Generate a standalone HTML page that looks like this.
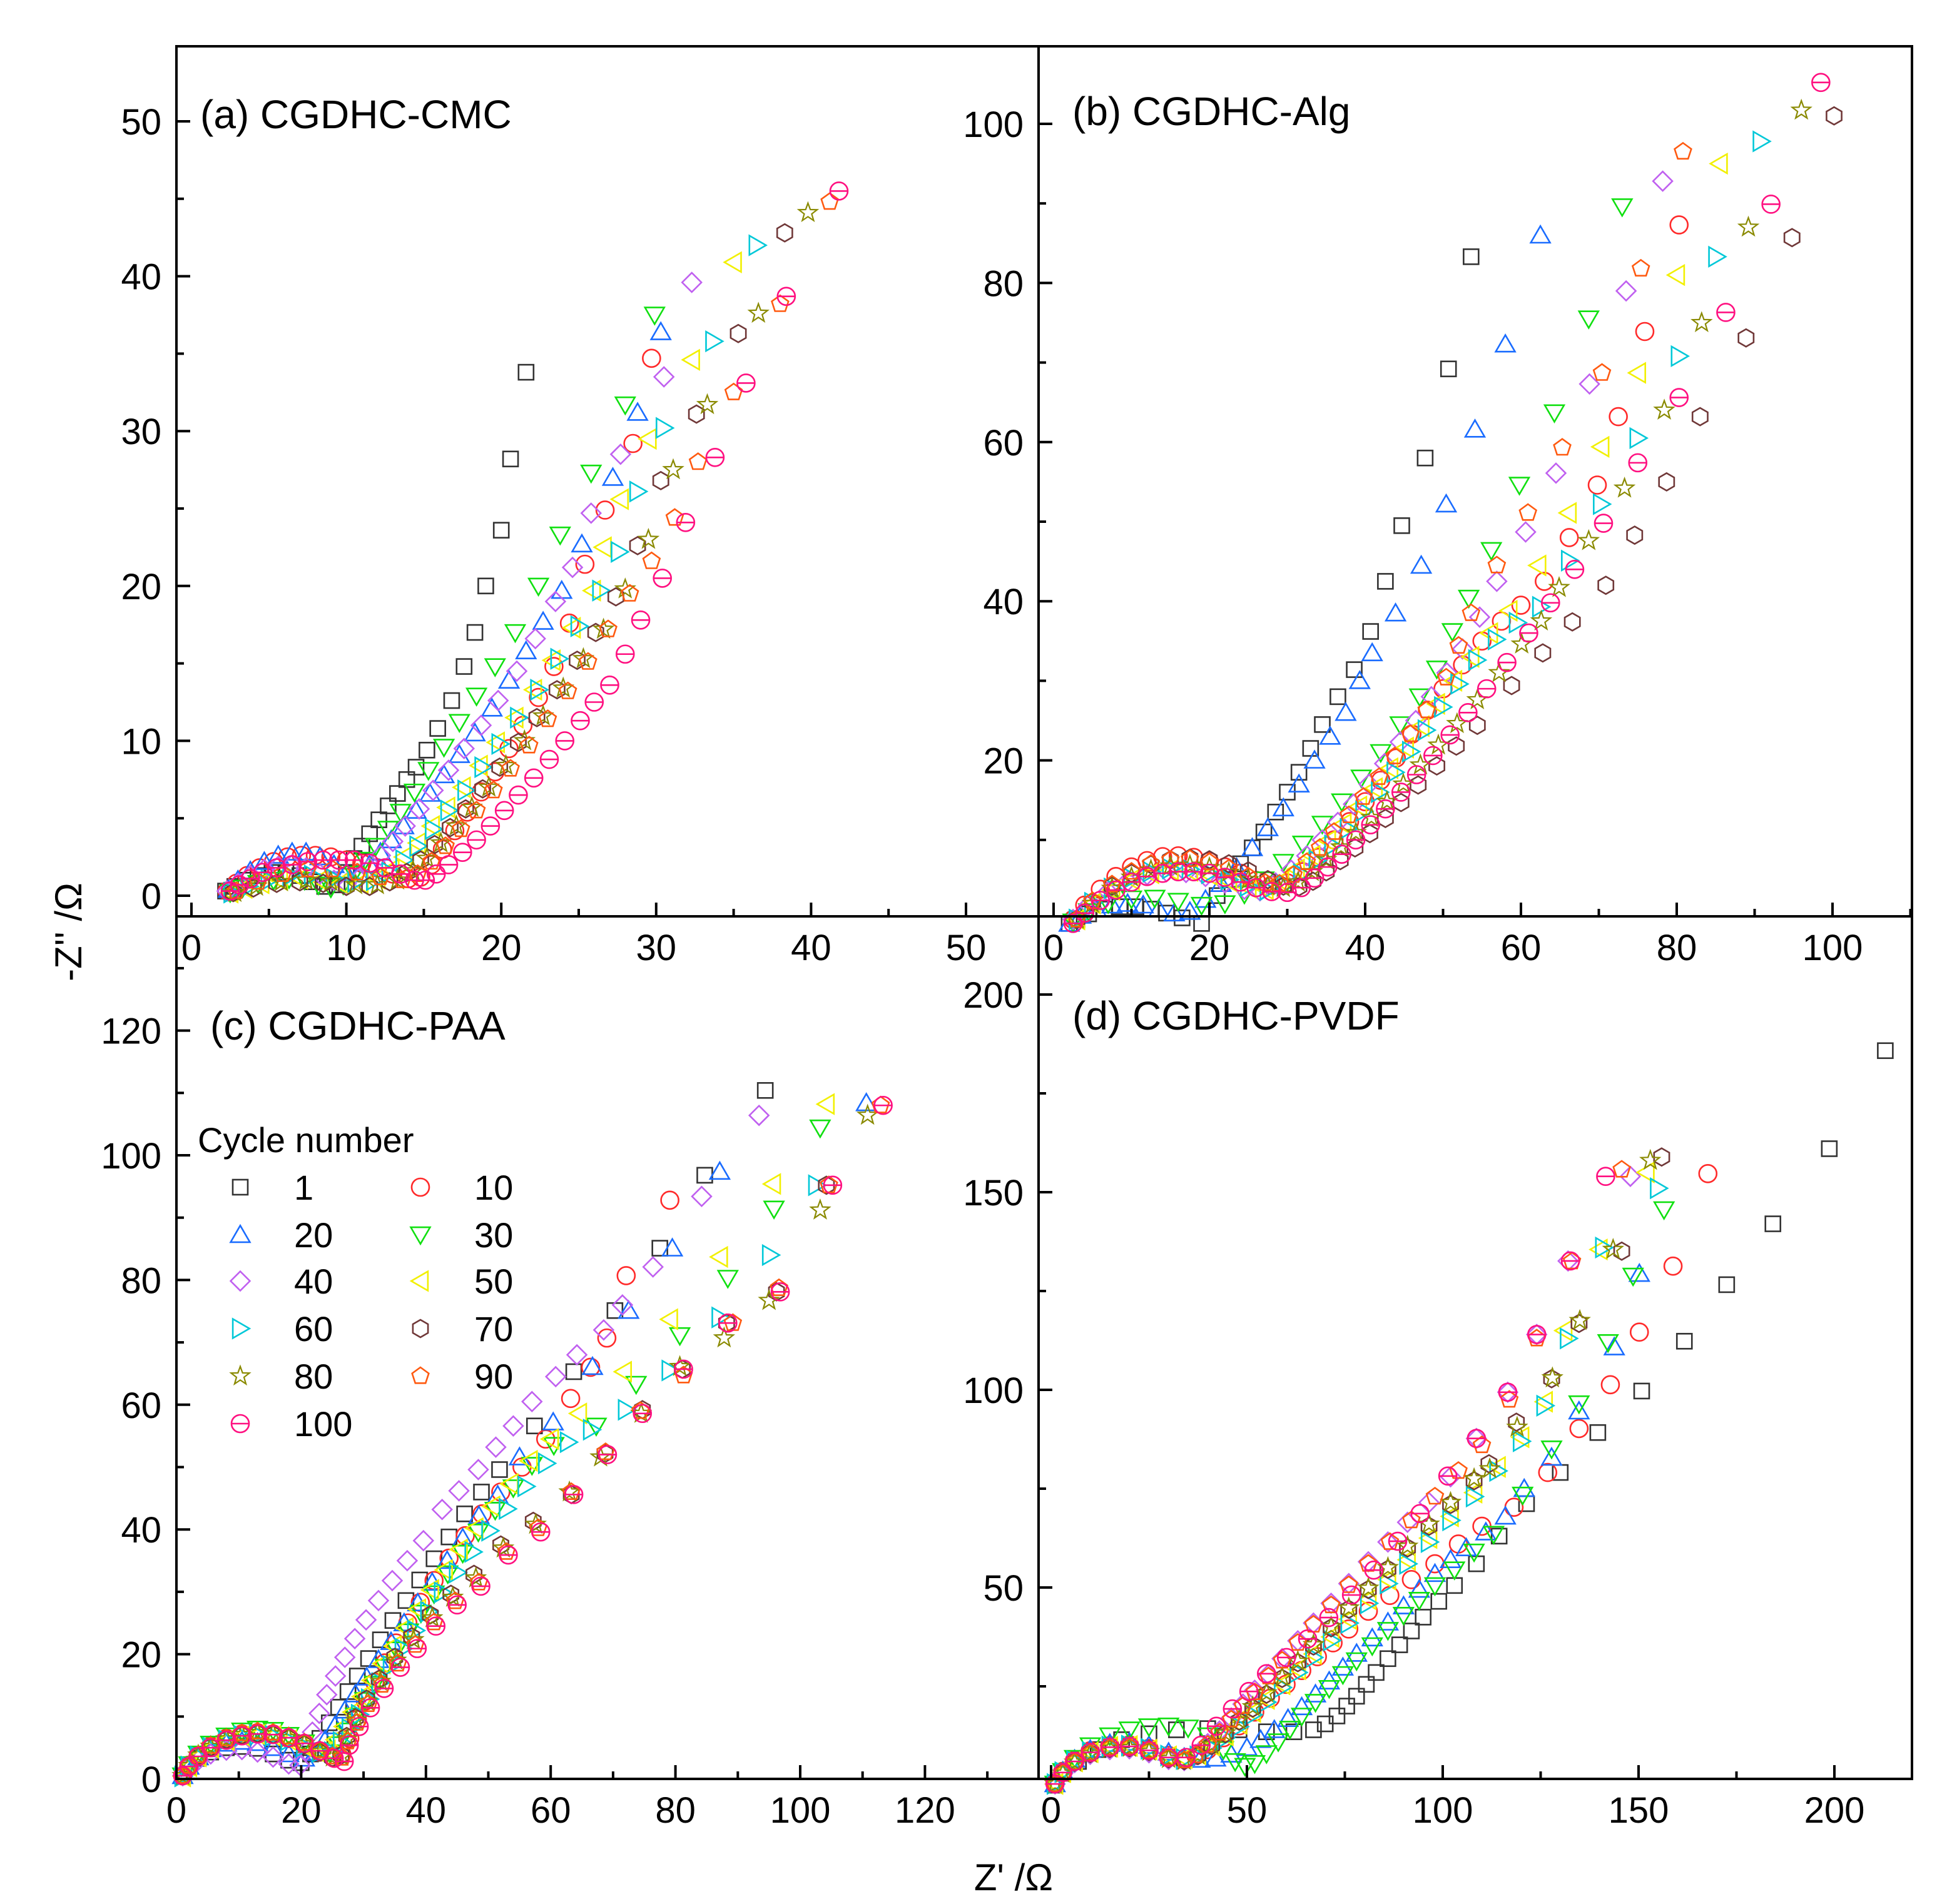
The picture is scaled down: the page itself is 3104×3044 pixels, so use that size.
<!DOCTYPE html>
<html><head><meta charset="utf-8">
<style>
html,body{margin:0;padding:0;background:#fff;}
svg{display:block;font-family:"Liberation Sans",Arial,sans-serif;}
</style></head>
<body>
<svg id="chart" xmlns="http://www.w3.org/2000/svg" width="3104" height="3044" viewBox="0 0 3104 3044">
<rect x="0" y="0" width="3104" height="3044" fill="#fff"/>
<g id="marks"></g>
<g id="axes"></g>
</svg>
<script>
// ---------- Data (Z' , -Z'') per cycle ----------
const cycles = [1,10,20,30,40,50,60,70,80,90,100];
const aTicksX = [0,10,20,30,40,50];
const aTicksY = [0,10,20,30,40,50];
const bTicksX = [0,20,40,60,80,100];
const bTicksY = [20,40,60,80,100];
const cTicksX = [0,20,40,60,80,100,120];
const cTicksY = [0,20,40,60,80,100,120];
const dTicksX = [0,50,100,150,200];
const dTicksY = [50,100,150,200];

const a1=[[2.2,0.3],[2.8,0.6],[3.5,1],[4.3,1.3],[5.2,1.5],[6.1,1.5],[7,1.3],[7.8,0.9],[8.6,0.6],[9.4,0.7],[10,1.5],[10.5,2.4],[11,3.2],[11.5,4],[12.1,4.9],[12.7,5.8],[13.3,6.6],[13.9,7.5],[14.5,8.3],[15.2,9.4],[15.9,10.8],[16.8,12.6],[17.6,14.8],[18.3,17],[19,20],[20,23.6],[20.6,28.2],[21.6,33.8]];
const a10=[[2.3,0.3],[2.9,0.8],[3.6,1.3],[4.4,1.8],[5.3,2.2],[6.2,2.5],[7.1,2.6],[8,2.6],[9,2.5],[10,2.3],[11,2.1],[12,1.8],[13,1.4],[14,1.1],[14.8,1.2],[15.5,2],[16.2,3],[17,4.2],[17.8,5.4],[18.7,6.7],[19.6,8],[20.5,9.5],[21.4,11],[22.4,12.8],[23.4,14.8],[24.4,17.6],[25.4,21.4],[26.7,24.9],[28.5,29.2],[29.7,34.7]];
const a20=[[2.4,0.4],[3,1],[3.8,1.6],[4.7,2.2],[5.6,2.6],[6.5,2.8],[7.4,2.8],[8.3,2.5],[9.2,2],[10,1.5],[10.8,1.4],[11.5,2],[12.2,2.8],[12.9,3.6],[13.7,4.5],[14.5,5.5],[15.4,6.6],[16.3,7.8],[17.3,9.1],[18.3,10.5],[19.4,12.1],[20.5,13.9],[21.6,15.8],[22.7,17.7],[23.9,19.7],[25.2,22.7],[27.2,27],[28.8,31.2],[30.3,36.4]];
const a30=[[2.5,0.2],[3.3,0.5],[4.3,0.8],[5.3,1],[6.3,1.1],[7.3,1],[8.2,0.7],[9,0.5],[9.8,0.7],[10.5,1.4],[11.2,2.3],[11.9,3.2],[12.7,4.3],[13.5,5.4],[14.4,6.7],[15.3,8.1],[16.3,9.6],[17.3,11.2],[18.4,12.9],[19.6,14.8],[20.9,17],[22.4,20],[23.8,23.3],[25.8,27.3],[28,31.7],[29.9,37.5]];
const a40=[[2.3,0.3],[3,0.8],[3.8,1.3],[4.7,1.7],[5.6,1.9],[6.5,2],[7.4,1.8],[8.3,1.4],[9.2,1],[10,0.8],[10.8,1.1],[11.5,1.8],[12.2,2.6],[13,3.5],[13.8,4.5],[14.7,5.6],[15.6,6.8],[16.6,8.1],[17.6,9.5],[18.7,11],[19.8,12.6],[21,14.5],[22.2,16.6],[23.5,19],[24.6,21.2],[25.8,24.7],[27.7,28.5],[30.5,33.5],[32.3,39.6]];
const a50=[[2.5,0.2],[3.4,0.5],[4.5,0.8],[5.7,1],[7,1.1],[8.3,1],[9.6,0.8],[10.9,0.8],[12,1.1],[12.9,1.7],[13.7,2.5],[14.6,3.4],[15.5,4.5],[16.5,5.7],[17.5,7],[18.6,8.4],[19.7,9.9],[20.9,11.5],[22.1,13.3],[23.3,15.2],[24.6,17.3],[25.9,19.7],[26.6,22.5],[27.7,25.6],[29.5,29.5],[32.3,34.6],[35,40.9]];
const a60=[[2.6,0.2],[3.7,0.6],[5,1],[6.4,1.3],[7.8,1.3],[9.2,1.1],[10.6,0.9],[11.8,1],[12.8,1.5],[13.7,2.3],[14.6,3.2],[15.6,4.3],[16.6,5.5],[17.7,6.8],[18.8,8.3],[19.9,9.8],[21.1,11.5],[22.4,13.3],[23.7,15.3],[25,17.4],[26.4,19.7],[27.6,22.2],[28.8,26.1],[30.5,30.2],[33.7,35.8],[36.5,42]];
const a70=[[2.7,0.2],[4,0.5],[5.5,0.8],[7,0.9],[8.5,0.8],[10,0.6],[11.5,0.6],[12.8,0.9],[13.9,1.5],[14.8,2.3],[15.7,3.3],[16.7,4.4],[17.7,5.6],[18.8,6.9],[19.9,8.3],[21.1,9.9],[22.3,11.5],[23.6,13.3],[24.9,15.2],[26.1,17],[27.4,19.3],[28.8,22.6],[30.3,26.8],[32.6,31.1],[35.3,36.3],[38.3,42.8]];
const a80=[[2.8,0.2],[4.2,0.6],[5.8,0.9],[7.4,1],[9,0.9],[10.6,0.7],[12,0.7],[13.3,1],[14.3,1.6],[15.2,2.4],[16.1,3.4],[17.1,4.5],[18.1,5.7],[19.2,7],[20.3,8.4],[21.5,10],[22.7,11.6],[24,13.4],[25.3,15.3],[26.6,17.2],[28,19.8],[29.5,23],[31.1,27.5],[33.3,31.7],[36.6,37.6],[39.8,44.1]];
const a90=[[2.9,0.3],[4.3,0.9],[5.9,1.4],[7.5,1.7],[9.1,1.7],[10.7,1.5],[12.2,1.2],[13.6,1],[14.6,1.4],[15.5,2.2],[16.4,3.2],[17.4,4.3],[18.4,5.5],[19.5,6.8],[20.6,8.2],[21.8,9.7],[23,11.4],[24.3,13.2],[25.6,15.1],[26.9,17.2],[28.3,19.5],[29.7,21.6],[31.2,24.4],[32.7,28],[35,32.5],[38,38.2],[41.2,44.8]];
const a100=[[2.5,0.3],[3.1,0.7],[3.8,1.1],[4.6,1.5],[5.5,1.8],[6.5,2],[7.5,2.2],[8.5,2.3],[9.5,2.3],[10.5,2.3],[11.5,2.1],[12.5,1.8],[13.5,1.4],[14.4,1],[15.1,1],[15.8,1.4],[16.6,2],[17.5,2.8],[18.4,3.6],[19.3,4.5],[20.2,5.5],[21.1,6.5],[22.1,7.6],[23.1,8.8],[24.1,10],[25.1,11.3],[26,12.5],[27,13.6],[28,15.6],[29,17.8],[30.4,20.5],[31.9,24.1],[33.8,28.3],[35.8,33.1],[38.4,38.7],[41.8,45.5]];

const b1=[[2,-0.5],[3,0],[4.5,0.7],[6.5,1.3],[8.5,1.6],[10.5,1.6],[12.5,1.3],[14.5,0.8],[16.5,0.2],[19,-0.5],[21,3],[22.5,5],[24,7],[25.5,9],[27,11],[28.5,13.5],[30,16],[31.5,18.5],[33,21.5],[34.5,24.5],[36.5,28],[38.6,31.4],[40.7,36.2],[42.6,42.5],[44.7,49.5],[47.7,58],[50.7,69.2],[53.6,83.3]];
const b10=[[2.5,0],[4,1.8],[6,3.8],[8,5.4],[10,6.6],[12,7.4],[14,7.9],[16,8],[18,7.8],[20,7.3],[22,6.6],[24,5.8],[26,4.9],[28,4.3],[30,4.6],[32,6],[34,7.8],[36,10],[38,12.3],[40,14.8],[42,17.5],[44,20.3],[46,23.3],[48,26.3],[50,29],[52.5,32],[55,35],[57.5,37.5],[60,39.5],[63,42.5],[66.2,48],[69.8,54.6],[72.5,63.2],[75.9,73.9],[80.3,87.3]];
const b20=[[2,-0.5],[3.5,0.5],[5.5,1.3],[7.5,1.8],[9.5,2],[11.5,1.8],[13.5,1.3],[15.5,0.8],[17.5,1],[19.5,2.5],[21.5,4.5],[23.5,6.5],[25.5,9],[27.5,11.5],[29.5,14],[31.5,17],[33.5,20],[35.5,23],[37.5,26],[39.3,30],[40.9,33.5],[43.9,38.5],[47.2,44.5],[50.4,52.2],[54.1,61.6],[58,72.3],[62.5,86]];
const b30=[[2.5,-0.3],[4.5,1],[7,2],[10,2.6],[13,2.7],[16,2.3],[19,1.8],[22,2],[24.5,3.2],[27,5],[29.5,7.2],[32,9.5],[34.5,12],[37,14.8],[39.5,17.8],[42,21],[44.5,24.5],[47,28],[49.2,31.5],[51.2,36.2],[53.3,40.4],[56.2,46.4],[59.8,54.6],[64.3,63.7],[68.7,75.5],[73,89.6]];
const b40=[[2.5,0],[4.5,1.8],[7,3.5],[9.5,4.8],[12,5.6],[14.5,6],[17,5.9],[19.5,5.4],[22,4.6],[24.5,3.8],[26.5,3.6],[28.5,4.6],[30.5,6.2],[32.5,8],[34.5,10],[36.5,12.2],[38.5,14.5],[40.5,17],[42.5,19.6],[44.5,22.3],[46.5,25],[48.5,28],[50.5,31],[52.5,34],[54.7,38],[56.9,42.5],[60.6,48.7],[64.5,56.1],[68.8,67.3],[73.5,79],[78.2,92.8]];
const b50=[[3,0],[5,2],[7.5,3.7],[10,5],[12.5,5.8],[15,6.2],[17.5,6.1],[20,5.6],[22.5,4.8],[25,4],[27.2,3.8],[29.2,4.8],[31.2,6.3],[33.2,8],[35.2,9.9],[37.2,12],[39.2,14.2],[41.2,16.5],[43.2,19],[45.2,21.6],[47.2,24.3],[49.2,27.1],[51.4,30],[53.6,33],[56,36],[58.5,38.8],[62.2,44.5],[66.1,51.1],[70.3,59.4],[75,68.7],[80,81],[85.5,95]];
const b60=[[3,0],[5,2.1],[7.5,3.9],[10,5.2],[12.5,6],[15,6.4],[17.5,6.3],[20,5.8],[22.5,5],[25,4.2],[27.5,3.7],[29.7,4.3],[31.8,5.7],[33.8,7.4],[35.8,9.3],[37.8,11.4],[39.8,13.6],[41.8,16],[43.8,18.5],[45.8,21.1],[47.8,23.8],[49.9,26.7],[52,29.6],[54.3,32.6],[56.8,35.2],[59.5,37.3],[62.5,39.3],[66.2,45.1],[70.3,52.2],[75,60.5],[80.3,70.8],[85.1,83.3],[90.8,97.8]];
const b70=[[3,0],[5,2.2],[7.5,4.2],[10,5.8],[12.5,6.9],[15,7.5],[17.5,7.7],[20,7.5],[22.5,7],[25,6.1],[27.5,5],[29.5,4.2],[31.5,4.1],[33.3,4.8],[35,6],[36.8,7.4],[38.7,9],[40.6,10.8],[42.6,12.7],[44.6,14.7],[46.8,16.9],[49.2,19.3],[51.7,21.8],[54.4,24.4],[58.8,29.4],[62.8,33.5],[66.6,37.4],[70.9,42],[74.6,48.3],[78.7,55],[83,63.2],[88.9,73.1],[94.8,85.7],[100.2,101]];
const b80=[[3,0],[5,2],[7.5,3.9],[10,5.3],[12.5,6.2],[15,6.7],[17.5,6.8],[20,6.5],[22.5,5.9],[25,5],[27.5,4.2],[29.5,4],[31.4,4.7],[33.2,6],[35,7.5],[36.9,9.1],[38.8,10.9],[40.8,12.8],[42.8,14.8],[44.9,17],[47.1,19.4],[49.4,21.9],[51.8,24.6],[54.4,27.6],[57.2,31],[60.1,34.6],[62.6,37.5],[64.9,41.7],[68.7,47.6],[73.3,54.2],[78.4,64],[83.2,75],[89.2,87],[96,101.7]];
const b90=[[3,0],[5,2.3],[7.5,4.4],[10,6],[12.5,7],[15,7.5],[17.5,7.6],[20,7.2],[22.5,6.4],[25,5.4],[27.2,4.6],[29,4.5],[30.8,5.6],[32.5,7.2],[34.2,9],[36,11],[37.9,13.1],[39.8,15.4],[41.8,17.9],[43.8,20.5],[45.8,23.3],[47.9,26.3],[50.4,30.4],[52,34.4],[53.6,38.5],[56.9,44.5],[60.9,51.1],[65.3,59.3],[70.4,68.7],[75.4,81.8],[80.8,96.5]];
const b100=[[2.5,-0.5],[4,0.8],[6,2.4],[8,3.7],[10,4.7],[12,5.4],[14,5.8],[16,6],[18,6],[20,5.8],[22,5.3],[24,4.7],[26,4],[28,3.5],[30,3.4],[31.8,4],[33.5,5.2],[35.2,6.6],[37,8.2],[38.8,10],[40.7,11.9],[42.6,13.9],[44.6,16],[46.6,18.2],[48.7,20.6],[50.9,23.2],[53.2,26],[55.6,29],[58.2,32.3],[61,36],[63.8,39.8],[66.9,44],[70.6,49.8],[75,57.4],[80.3,65.6],[86.3,76.3],[92.1,89.9],[98.5,105.2]];

const c1=[[1,0.5],[2,2],[3.5,3.3],[5.5,4.3],[8,5],[10.5,5.2],[13,4.9],[15.5,4],[18,3],[20,2.6],[21.5,4],[23,6.5],[24.5,9],[26,11.5],[27.5,14],[29,16.5],[30.8,19.3],[32.7,22.3],[34.7,25.4],[36.8,28.6],[39,31.9],[41.3,35.3],[43.7,38.8],[46.2,42.5],[48.9,46],[51.8,49.6],[57.4,56.6],[63.7,65.3],[70.3,75.1],[77.5,85.1],[84.7,96.8],[94.4,110.4]];
const c10=[[1,0.5],[2,2.2],[3.5,3.8],[5.5,5.3],[8,6.5],[10.5,7.2],[13,7.4],[15.5,7.2],[18,6.5],[20.5,5.5],[23,4.3],[25,3.5],[26.5,4],[27.8,6.5],[29,9.5],[30.3,12.5],[31.8,15.5],[33.4,18.6],[35.2,21.8],[37.1,25],[39.1,28.3],[41.3,31.8],[43.7,35.4],[46.3,39],[49,42.5],[52,46],[55.4,50],[59.2,54.5],[63.2,61],[66.4,66],[69,70.7],[72.1,80.7],[79.1,92.8]];
const c20=[[1,0.5],[2,2],[3.5,3.5],[5.5,4.8],[8,5.7],[10.5,6],[13,5.8],[15.5,5],[18,4],[20.5,3.3],[22.2,4.2],[23.8,6.2],[25.4,8.5],[27,11],[28.7,13.6],[30.5,16.3],[32.4,19.1],[34.4,22],[36.5,25],[38.7,28.2],[41,31.5],[43.4,35],[45.9,38.6],[48.5,42.2],[51.5,45.5],[55,51.6],[60.4,57.2],[66.7,66.1],[72.5,75.1],[79.5,85.1],[87.1,97.4],[110.6,108.4]];
const c30=[[1,0.5],[2,2.3],[3.5,4],[5.5,5.6],[8,6.9],[10.5,7.7],[13,8],[15.5,7.8],[18,7],[20.5,5.8],[22.8,4.5],[24.6,4.2],[26,5.5],[27.3,7.7],[28.7,10.1],[30.2,12.6],[31.8,15.2],[33.5,17.9],[35.3,20.7],[37.2,23.6],[39.2,26.6],[41.3,29.7],[43.5,32.9],[45.9,36.2],[48.4,39.6],[51.1,43.1],[54,46.7],[57,50.3],[60.5,53.5],[67.3,56.6],[73.7,63.3],[80.7,71.1],[88.4,80.3],[95.8,91.4],[103.2,104.4]];
const c40=[[1,0.5],[2,1.8],[3.5,3],[5.5,4],[8,4.6],[10.5,4.7],[13,4.3],[15.5,3.5],[18,2.4],[19.8,2.2],[20.8,4.5],[21.8,7.5],[22.9,10.5],[24.1,13.5],[25.5,16.5],[27,19.5],[28.6,22.5],[30.4,25.5],[32.4,28.6],[34.6,31.8],[37,35],[39.6,38.2],[42.6,43.2],[45.3,46.2],[48.4,49.6],[51.2,53.2],[54,56.6],[57,60.5],[60.8,64.5],[64.2,68],[68.5,72],[71.5,76],[76.4,82.1],[84.2,93.4],[93.4,106.4]];
const c50=[[1,0.4],[2,2],[3.5,3.6],[5.5,5],[8,6.2],[10.5,6.9],[13,7.1],[15.5,6.9],[18,6.2],[20.5,5.2],[22.8,4.2],[24.2,4.6],[25.5,6.3],[26.8,8.4],[28.2,10.7],[29.7,13.2],[31.3,15.8],[33,18.5],[34.8,21.3],[36.7,24.2],[38.7,27.2],[40.8,30.3],[43,33.5],[45.4,36.8],[47.9,40.2],[50.6,43.7],[53.5,47.3],[56.6,51],[60,54.5],[64.5,58.6],[71.7,65.3],[79.1,73.7],[87.1,83.7],[95.6,95.4],[104.2,108.2]];
const c60=[[1,0.4],[2,2],[3.5,3.6],[5.5,5],[8,6.2],[10.5,6.9],[13,7.1],[15.5,6.9],[18,6.2],[20.5,5.2],[23,4.3],[25,4.3],[26.4,5.9],[27.8,8],[29.3,10.3],[30.9,12.8],[32.6,15.4],[34.4,18.1],[36.3,20.9],[38.3,23.8],[40.4,26.8],[42.6,29.9],[45,33.1],[47.5,36.4],[50.2,39.8],[53,43.3],[56,46.9],[59.3,50.6],[62.8,54],[66.5,56],[72.1,59.2],[79.1,65.5],[87.1,74],[95.2,84],[102.6,95.2]];
const c70=[[1,0.5],[2,2],[3.5,3.7],[5.5,5.1],[8,6.3],[10.5,7],[13,7.3],[15.5,7.1],[18,6.5],[20.5,5.5],[23,4.3],[25,3.4],[26.4,3.8],[27.3,6.8],[28.7,9.8],[30.5,12.8],[32.5,16],[35,19.5],[37.7,22.8],[40.7,26.3],[44,29.6],[47.7,32.8],[52,37.5],[57.2,41.3],[63.3,45.6],[68.7,52.2],[74.7,59.2],[81.1,65.7],[88.2,73.1],[96.2,78.1],[104.2,95.2]];
const c80=[[1,0.5],[2,2.1],[3.5,3.8],[5.5,5.2],[8,6.4],[10.5,7.1],[13,7.4],[15.5,7.2],[18,6.6],[20.5,5.6],[23,4.4],[25,3.5],[26.5,3.6],[27.4,6.4],[28.8,9.4],[30.6,12.4],[32.7,15.6],[35.2,19],[38,22.3],[41,25.8],[44.3,29.1],[48,32.2],[52.4,37],[57.6,40.8],[63,46],[68,51.6],[74.5,58.6],[80.7,66.1],[87.8,70.7],[95,76.7],[103.2,91.2],[110.8,106.4]];
const c90=[[1,0.5],[2,2.1],[3.5,3.8],[5.5,5.3],[8,6.5],[10.5,7.3],[13,7.6],[15.5,7.4],[18,6.8],[20.5,5.8],[23,4.6],[25,3.6],[26.6,3.4],[27.5,6],[29,9],[30.8,12],[33,15.1],[35.5,18.5],[38.3,21.5],[41.3,25.1],[44.7,28.5],[48.5,31.5],[52.9,36.4],[58,40.2],[63.3,46],[68.8,52.4],[74.4,59],[81.3,64.7],[89.2,73.1],[96.6,78.7],[104.6,95.2],[112.9,108]];
const c100=[[1,0.5],[2,2],[3.5,3.6],[5.5,5],[8,6.2],[10.5,6.9],[13,7.2],[15.5,7.1],[18,6.6],[20.5,5.7],[23,4.5],[25.3,3.3],[26.9,2.8],[27.7,5.4],[29.3,8.4],[31.1,11.4],[33.3,14.5],[35.9,17.9],[38.6,20.9],[41.6,24.5],[45,27.9],[48.8,30.9],[53.2,35.9],[58.4,39.6],[63.7,45.6],[69.1,52],[74.7,58.6],[81.3,65.7],[88.4,73.1],[96.8,78.1],[105.2,95.2],[113.3,108]];

const d1=[[1,0],[3,3],[7,6],[12,9],[18,11.5],[25,13],[32,14],[40,14.3],[48,14],[55,13.5],[62,13.5],[67,14],[70,15.5],[73,17.5],[75.5,20],[78,22.5],[80.5,25.5],[83,28.5],[86,32],[89,35.5],[92,39],[95,42.5],[99,46.5],[103,50.5],[108.6,56],[114.4,63],[121.4,71.2],[130,79.1],[139.6,89.2],[150.8,99.7],[161.7,112.3],[172.5,126.6],[184.3,142],[198.7,161],[213,185.8]];
const d10=[[1,0.5],[3,3.5],[6,6.3],[10,8.7],[15,10],[20,10.2],[25,9.3],[30,7.5],[34,6.5],[37,7.5],[40,9],[44,12],[48,15],[52,18.5],[56,22],[60,25.5],[64,29],[68,32.5],[72,36],[76,39.5],[81,44],[86.5,48],[92,52],[98,56],[104,61],[110,65.5],[118.2,70.3],[126.8,79.1],[134.8,90.2],[142.8,101.3],[150.2,114.6],[158.8,131.3],[167.7,154.7]];
const d20=[[1,0.3],[3,3.5],[6,6.5],[10,9],[15,10.5],[20,10.8],[25,10],[30,8.3],[34,7],[38,6.5],[42,6.8],[46,7.8],[50,9.5],[53.5,11.5],[57,14],[60.5,16.8],[64,19.8],[67.5,23],[71,26.3],[74.5,29.8],[78,33.3],[82,37.2],[86,41.2],[90,45.3],[94,49.5],[98,53.5],[102,57],[106,60],[111,64],[116,68],[120.8,75],[127.8,82.9],[134.8,94.6],[143.8,110.8],[150.2,129.4]];
const d30=[[1,0.3],[3,3.5],[6,6.8],[10,10],[15,12.5],[20,14],[25,14.8],[30,15],[35,14.5],[40,12.5],[44,9],[47,6],[49.5,4.8],[52,5.5],[55,8],[58,11],[61,14.2],[64,17.5],[67.5,21],[71,24.5],[74.5,28],[78,31.5],[82,35.3],[86,39.2],[90,43],[94,46.8],[98,50.5],[103,54.5],[108,59],[113,63.5],[120.4,73.4],[127.8,85.1],[134.8,96.5],[142.2,112],[148.6,128.8],[156.5,145.6]];
const d40=[[1,0.3],[3,3],[6,5.7],[10,7.8],[15,9],[20,9.2],[25,8.2],[30,6.5],[34,6.2],[37,7.8],[40,10.5],[43,13.7],[46,17],[49,20.5],[52,24],[55.5,28],[59,32],[63,36.5],[67,41],[71.5,46],[76,51],[81,56.5],[86,61.5],[91,66.5],[96.5,71.5],[102,78],[108.6,87.7],[116.6,99.4],[124,114],[132,132.6],[147.9,154]];
const d50=[[1,0.3],[3,3.3],[6,6],[10,8.3],[15,9.7],[20,9.9],[25,9],[30,7.3],[34,6.8],[37.5,7.8],[41,10],[44.5,12.6],[48,15.5],[51.5,18.5],[55,21.8],[59,25.5],[63,29.3],[67,33.2],[71.5,37.5],[76,42],[81,47],[86,52],[91,57],[96.5,62.5],[102,68],[108,74],[114,80.5],[120,88],[126,97],[131,115],[140,135.5],[152,155]];
const d60=[[1,0.3],[3,3.3],[6,6.1],[10,8.4],[15,9.8],[20,10],[25,9.2],[30,7.5],[34,6.6],[37.5,7.3],[41,9.4],[44.5,12],[48,14.8],[51.5,17.8],[55,21],[59,24.7],[63,28.5],[67,32.3],[71.5,36.6],[76,41],[81,46],[86,51],[91,56],[96.5,61.5],[102,67],[108,73],[114,79.5],[120,87],[126,96],[132,113],[141,136],[155,151]];
const d70=[[1,0.3],[3,3],[6,5.8],[10,8],[15,9.3],[20,9.5],[25,8.5],[30,6.7],[34,6.2],[37.5,7.5],[41,10],[44.5,13],[48,16.2],[51.5,19.5],[55,23],[59,27],[63,31],[67,35.2],[71.5,39.8],[76,44.5],[81,49.5],[86,54.6],[91,60],[96.5,65.5],[102,71],[108,77],[111.8,81.3],[118.8,91.8],[127.8,102.8],[134.8,116.8],[145.7,135.1],[155.9,158.9]];
const d80=[[1,0.3],[3,3],[6,5.8],[10,8],[15,9.3],[20,9.5],[25,8.5],[30,6.7],[34,6.2],[37.5,7.6],[41,10.2],[44.5,13.2],[48,16.4],[51.5,19.8],[55,23.3],[59,27.3],[63,31.3],[67,35.5],[71.5,40.1],[76,44.8],[81,49.8],[86,55],[91,60.4],[96.5,66],[102,71.5],[108,77.5],[112,80],[119,90.5],[128,103],[135,117.5],[143.5,135.5],[153,158]];
const d90=[[1,0.3],[3,3],[6,5.8],[10,8],[15,9.4],[20,9.6],[25,8.7],[30,6.9],[34,6.3],[37,7.6],[40,10.2],[43,13.3],[46,16.6],[49,20],[52,23.5],[55.5,27.5],[59,31.5],[63,36],[67,40.6],[71.5,45.5],[76,50.6],[81,56],[86.5,61.5],[92,67],[98,73],[104,79.5],[110,86],[117,97.5],[124,113],[133,132.5],[145.7,155.7]];
const d100=[[1,0.3],[3,3.2],[6,6],[10,8.3],[15,9.6],[20,9.8],[25,8.8],[30,7],[34.5,7],[38.3,10.1],[42.2,14.9],[46.3,19.3],[50.5,23.7],[55,28.2],[60.1,32.3],[65.5,37],[70.9,42.4],[76.7,48.1],[82.4,54.4],[88.5,61.7],[94.2,68.7],[101.3,78.2],[108.6,87.7],[116.6,99.4],[124,114],[132.6,132.6],[141.6,154]];

const panelA=[a1,a10,a20,a30,a40,a50,a60,a70,a80,a90,a100];
const panelB=[b1,b10,b20,b30,b40,b50,b60,b70,b80,b90,b100];
const panelC=[c1,c10,c20,c30,c40,c50,c60,c70,c80,c90,c100];
const panelD=[d1,d10,d20,d30,d40,d50,d60,d70,d80,d90,d100];

// ---------- styling ----------
const styles={1:['square','#333333'],10:['circle','#ff2a2a'],20:['up','#1a6cff'],30:['down','#10e010'],40:['diamond','#c060f0'],50:['left','#f2f000'],60:['right','#00c8d8'],70:['hex','#703838'],80:['star','#8a8a00'],90:['pent','#ff5a10'],100:['circline','#ff1080']};

const NS="http://www.w3.org/2000/svg";
const marks=document.getElementById('marks');
const axes=document.getElementById('axes');

function mk(tag,attrs,parent){const e=document.createElementNS(NS,tag);for(const k in attrs)e.setAttribute(k,attrs[k]);parent.appendChild(e);return e;}

function poly(pts){return pts.map(p=>p[0].toFixed(1)+','+p[1].toFixed(1)).join(' ');}
function marker(parent,type,cx,cy,color){
  const s=14, sw=2.6;
  const common={fill:'none',stroke:color,'stroke-width':sw};
  let el;
  if(type==='square'){el=mk('rect',Object.assign({x:cx-12,y:cy-12,width:24,height:24},common),parent);}
  else if(type==='circle'){el=mk('circle',Object.assign({cx:cx,cy:cy,r:s},common),parent);}
  else if(type==='circline'){el=mk('g',{},parent);mk('circle',Object.assign({cx:cx,cy:cy,r:s},common),el);mk('line',{x1:cx-s,y1:cy,x2:cx+s,y2:cy,stroke:color,'stroke-width':sw},el);}
  else if(type==='up'){el=mk('polygon',Object.assign({points:poly([[cx,cy-s*1.05],[cx+s*1.1,cy+s*0.85],[cx-s*1.1,cy+s*0.85]])},common),parent);}
  else if(type==='down'){el=mk('polygon',Object.assign({points:poly([[cx,cy+s*1.05],[cx+s*1.1,cy-s*0.85],[cx-s*1.1,cy-s*0.85]])},common),parent);}
  else if(type==='left'){el=mk('polygon',Object.assign({points:poly([[cx-s*1.05,cy],[cx+s*0.85,cy-s*1.1],[cx+s*0.85,cy+s*1.1]])},common),parent);}
  else if(type==='right'){el=mk('polygon',Object.assign({points:poly([[cx+s*1.05,cy],[cx-s*0.85,cy-s*1.1],[cx-s*0.85,cy+s*1.1]])},common),parent);}
  else if(type==='diamond'){el=mk('polygon',Object.assign({points:poly([[cx,cy-s*1.1],[cx+s*1.1,cy],[cx,cy+s*1.1],[cx-s*1.1,cy]])},common),parent);}
  else if(type==='hex'){const p=[];for(let i=0;i<6;i++){const a=Math.PI/6+i*Math.PI/3;p.push([cx+s*Math.cos(a),cy+s*Math.sin(a)]);}el=mk('polygon',Object.assign({points:poly(p)},common),parent);}
  else if(type==='pent'){const p=[];for(let i=0;i<5;i++){const a=-Math.PI/2+i*2*Math.PI/5;p.push([cx+s*Math.cos(a),cy+s*Math.sin(a)]);}el=mk('polygon',Object.assign({points:poly(p)},common),parent);}
  else if(type==='star'){const p=[];for(let i=0;i<10;i++){const a=-Math.PI/2+i*Math.PI/5;const r=i%2?s*0.45:s*1.1;p.push([cx+r*Math.cos(a),cy+r*Math.sin(a)]);}el=mk('polygon',Object.assign({points:poly(p),'stroke-width':2.2},{fill:'none',stroke:color}),parent);}
  return el;
}

function text(parent,x,y,str,size,anchor,name){
  const t=mk('text',{x:x,y:y,'font-size':size,'text-anchor':anchor||'start',fill:'#000'},parent);
  t.textContent=str;
  
  
  return t;
}

// panel geometry: rect + axis mapping
const panels=[
 {id:'a',data:panelA,rect:[282,74,1660,1465],x0:306,sx:24.76,y0:1432,sy:24.76,tx:aTicksX,ty:aTicksY,minx:5,miny:5,title:'(a) CGDHC-CMC',tpos:[320,205]},
 {id:'b',data:panelB,rect:[1660,74,3056,1465],x0:1684,sx:12.45,y0:1470,sy:12.72,tx:bTicksX,ty:bTicksY,minx:10,miny:10,title:'(b) CGDHC-Alg',tpos:[1714,200]},
 {id:'c',data:panelC,rect:[282,1465,1660,2844],x0:282,sx:9.97,y0:2844,sy:9.97,tx:cTicksX,ty:cTicksY,minx:10,miny:10,title:'(c) CGDHC-PAA',tpos:[336,1662]},
 {id:'d',data:panelD,rect:[1660,1465,3056,2844],x0:1680,sx:6.26,y0:2854,sy:6.32,tx:dTicksX,ty:dTicksY,minx:25,miny:25,title:'(d) CGDHC-PVDF',tpos:[1714,1646]}
];

panels.forEach(P=>{
  const X=v=>P.x0+v*P.sx, Y=v=>P.y0-v*P.sy;
  const g=mk('g',{},marks);
  
  
  P.data.forEach((series,si)=>{
    const cyc=cycles[si]; const st=styles[cyc];
    const sg=mk('g',{},g);
    
    
    series.forEach(pt=>{
      const m=marker(sg,st[0],X(pt[0]),Y(pt[1]),st[1]);
      
      
    });
  });
  // frame
  const [L,T,R,B]=P.rect;
  const fr=mk('rect',{x:L,y:T,width:R-L,height:B-T,fill:'none',stroke:'#000','stroke-width':4},axes);
  
  
  // x ticks
  const xmaxV=(R-P.x0)/P.sx, ymaxV=(P.y0-T)/P.sy;
  for(let v=0; v<=xmaxV; v+=P.minx){
    const px=X(v); if(px<L+2||px>R-2) continue;
    const major=P.tx.indexOf(v)>=0 || (v% (P.minx*2)===0);
    mk('line',{x1:px,y1:B,x2:px,y2:B-(major?22:12),stroke:'#000','stroke-width':4},axes);
  }
  for(let v=0; v<=ymaxV; v+=P.miny){
    const py=Y(v); if(py<T+2||py>B-2) continue;
    const major=(v%(P.miny*2)===0);
    mk('line',{x1:L,y1:py,x2:L+(major?22:12),y2:py,stroke:'#000','stroke-width':4},axes);
  }
  P.tx.forEach(v=>{text(axes,X(v),B+70,String(v),58,'middle','x-tick-label-'+P.id);});
  P.ty.forEach(v=>{text(axes,L-24,Y(v)+21,String(v),58,'end','y-tick-label-'+P.id);});
  text(axes,P.tpos[0],P.tpos[1],P.title,64,'start','panel-'+P.id+'-title');
});

// axis titles
const yt=text(axes,0,0,"-Z'' /\u03A9",60,'middle','y-axis-title');
yt.setAttribute('transform','translate(130,1490) rotate(-90)');
text(axes,1620,3022,"Z' /\u03A9",60,'middle','x-axis-title');

// legend
const leg=mk('g',{},axes);


text(leg,316,1842,'Cycle number',56,'start','legend-title');
const legRows=[1898,1974,2048,2124,2200,2276];
cycles.forEach((c,i)=>{
  const col = (c===1||c===20||c===40||c===60||c===80||c===100)?0:1;
  const order=[1,20,40,60,80,100].indexOf(c);
  const row = col===0?order:[10,30,50,70,90].indexOf(c);
  const mx = col===0?384:672, tx = col===0?470:758;
  const y=legRows[row];
  const m=marker(leg,styles[c][0],mx,y,styles[c][1]);
  
  
  text(leg,tx,y+20,String(c),56,'start','legend-entry-'+c);
});
</script>
</body></html>
